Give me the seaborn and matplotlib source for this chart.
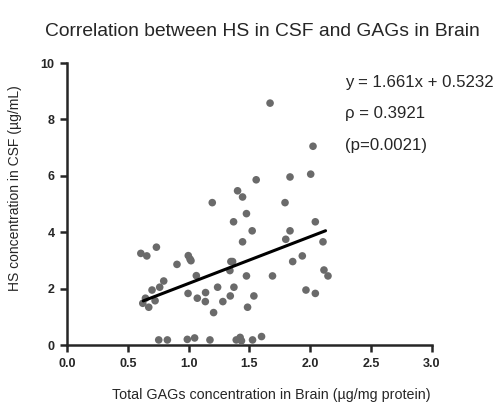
import numpy as np
import pandas as pd
import seaborn as sns
import matplotlib.pyplot as plt

# Values
gags_brain = [0.607, 0.656, 0.735, 0.623, 0.645, 0.672, 0.699, 0.724, 0.762, 0.795,
              0.904, 0.997, 1.011, 1.019, 0.995, 1.063, 1.071, 1.139, 1.137, 1.194,
              1.205, 1.238, 1.281, 1.339, 1.347, 1.361, 1.372, 1.342, 1.369, 1.402,
              1.443, 1.443, 1.475, 1.475, 1.484, 1.522, 1.536, 1.555,
              0.754, 0.825, 0.989, 1.049, 1.175, 1.391, 1.423, 1.434, 1.525, 1.599,
              1.669, 1.689, 1.792, 1.833, 1.833, 1.798, 1.855, 1.934, 2.003, 2.022,
              2.041, 2.104, 2.112, 2.145, 1.964, 2.041]
hs_csf = [3.25, 3.16, 3.47, 1.48, 1.66, 1.34, 1.95, 1.57, 2.05, 2.27,
          2.86, 3.17, 3.05, 2.99, 1.83, 2.46, 1.66, 1.86, 1.54, 5.05,
          1.15, 2.05, 1.54, 2.64, 2.96, 2.96, 2.05, 1.74, 4.37, 5.47,
          5.25, 3.66, 4.66, 2.45, 1.34, 4.05, 1.74, 5.86,
          0.18, 0.18, 0.20, 0.25, 0.18, 0.18, 0.27, 0.15, 0.18, 0.30,
          8.58, 2.45, 5.05, 5.96, 4.05, 3.75, 2.96, 3.16, 6.06, 7.05,
          4.37, 3.66, 2.66, 2.45, 1.95, 1.83]

slope = 1.661
intercept = 0.5232
rho_text = "\u03c1 = 0.3921"
p_text = "(p=0.0021)"

df = pd.DataFrame({"gags": gags_brain, "hs": hs_csf})

sns.set_style("ticks")
plt.rcParams['font.family'] = ['Liberation Sans', 'DejaVu Sans']

fig = plt.figure(figsize=(4.98, 4.08), dpi=100)
ax = fig.add_axes([0.1345, 0.1544, 0.733, 0.691])

sns.scatterplot(data=df, x="gags", y="hs", ax=ax, color="#6a6a6a",
                s=30, edgecolor="none", clip_on=False, zorder=3)

# regression line over the data range
fit_x = np.array([min(gags_brain) + 0.02, max(gags_brain) - 0.02])
fit = pd.DataFrame({"x": fit_x, "y": slope * fit_x + intercept})
sns.lineplot(data=fit, x="x", y="y", ax=ax, color="black", linewidth=2.2, zorder=4)

ax.set_xlim(0, 3.0)
ax.set_ylim(0, 10)
ax.set_xticks(np.arange(0, 3.01, 0.5))
ax.set_yticks(np.arange(0, 10.1, 2))
ax.set_xticklabels([f"{v:.1f}" for v in np.arange(0, 3.01, 0.5)])
ax.set_yticklabels([f"{int(v)}" for v in np.arange(0, 10.1, 2)])
for lbl in ax.get_xticklabels() + ax.get_yticklabels():
    lbl.set_fontweight("bold")
    lbl.set_fontsize(9)
ax.tick_params(direction="out", length=5, width=1.8, pad=4)
sns.despine(ax=ax)
for side in ["left", "bottom"]:
    ax.spines[side].set_linewidth(1.8)

ax.set_xlabel("Total GAGs concentration in Brain (\u00b5g/mg protein)", fontsize=10.3)
ax.set_ylabel("HS concentration in CSF (\u00b5g/mL)", fontsize=10)
ax.xaxis.set_label_coords(0.56, -0.152)
ax.yaxis.set_label_coords(-0.123, 0.557)

fig.text(0.526, 0.922, "Correlation between HS in CSF and GAGs in Brain",
         ha="center", va="center", fontsize=13.9)

ax.text(0.762, 0.93, f"y = {slope}x + {intercept}", transform=ax.transAxes,
        fontsize=12.1, va="center")
ax.text(0.762, 0.82, rho_text, transform=ax.transAxes, fontsize=12.1, va="center")
ax.text(0.762, 0.707, p_text, transform=ax.transAxes, fontsize=12.1, va="center")

fig.savefig("out.png", dpi=100)
